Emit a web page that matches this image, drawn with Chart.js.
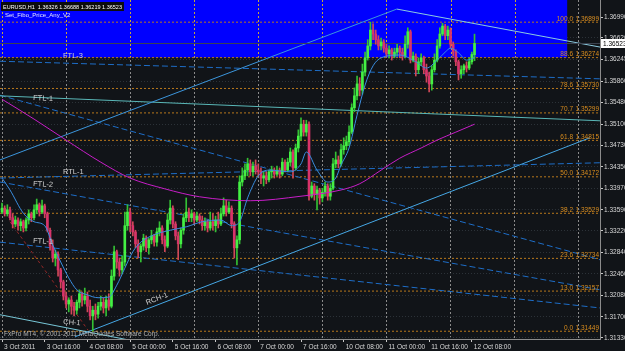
<!DOCTYPE html>
<html>
<head>
<meta charset="utf-8">
<script src="https://cdn.jsdelivr.net/npm/chart.js@4.4.1/dist/chart.umd.min.js"></script>
<style>
    html, body { margin: 0; padding: 0; background: #111418; }
    canvas { display: block; }
</style>
</head>
<body>
<canvas id="chart" width="625" height="351"></canvas>
<script>
// ======================================
// Data (EURUSD H1)
// ======================================

const opens = [
    1.3355,1.3362,1.3352,1.3359,1.3345,1.3334,1.3341,1.3331,1.3338,1.3327,
    1.3341,1.3352,1.3345,1.3359,1.3368,1.3355,1.3366,1.3352,1.3323,1.3295,
    1.3274,1.3281,1.3253,1.3232,1.3207,1.3193,1.3200,1.3189,1.3182,1.3196,
    1.3211,1.3200,1.3207,1.3189,1.3172,1.3182,1.3175,1.3189,1.3196,1.3186,
    1.3200,1.3189,1.3242,1.3285,1.3267,1.3253,1.3267,1.3331,1.3355,1.3331,
    1.3320,1.3299,1.3285,1.3295,1.3309,1.3292,1.3306,1.3313,1.3302,1.3320,
    1.3327,1.3306,1.3295,1.3341,1.3362,1.3334,1.3313,1.3299,1.3323,1.3345,
    1.3355,1.3345,1.3352,1.3341,1.3348,1.3341,1.3331,1.3338,1.3327,1.3338,
    1.3331,1.3341,1.3334,1.3352,1.3366,1.3355,1.3362,1.3334,1.3292,1.3306,
    1.3408,1.3419,1.3429,1.3440,1.3426,1.3436,1.3429,1.3426,1.3415,1.3419,
    1.3412,1.3426,1.3429,1.3422,1.3429,1.3422,1.3443,1.3429,1.3443,1.3461,
    1.3433,1.3468,1.3489,1.3510,1.3496,1.3510,1.3383,1.3401,1.3387,1.3394,
    1.3380,1.3390,1.3401,1.3383,1.3397,1.3440,1.3447,1.3440,1.3465,1.3472,
    1.3479,1.3496,1.3539,1.3560,1.3581,1.3570,1.3602,1.3627,1.3648,1.3676,
    1.3669,1.3659,1.3648,1.3655,1.3644,1.3634,1.3641,1.3630,1.3637,1.3644,
    1.3637,1.3630,1.3651,1.3673,1.3623,1.3630,1.3606,1.3620,1.3627,1.3606,
    1.3595,1.3581,1.3606,1.3623,1.3648,1.3669,1.3683,1.3666,1.3676,1.3651,
    1.3637,1.3620,1.3599,1.3606,1.3613,1.3609,1.3620,1.36326
];

const highs = [
    1.3371,1.3366,1.3368,1.3364,1.3352,1.3348,1.3345,1.3343,1.3341,1.3345,
    1.3359,1.3355,1.3368,1.3378,1.3371,1.3376,1.3369,1.3355,1.3327,1.3306,
    1.3288,1.3285,1.3256,1.3235,1.3214,1.3204,1.3207,1.3196,1.3200,1.3218,
    1.3214,1.3221,1.3214,1.3200,1.3189,1.3193,1.3196,1.3207,1.3204,1.3207,
    1.3211,1.3253,1.3295,1.3288,1.3274,1.3278,1.3355,1.3368,1.3362,1.3338,
    1.3323,1.3306,1.3299,1.3316,1.3313,1.3309,1.3323,1.3316,1.3327,1.3338,
    1.3331,1.3313,1.3352,1.3376,1.3366,1.3338,1.3320,1.3327,1.3352,1.3380,
    1.3362,1.3359,1.3355,1.3355,1.3352,1.3348,1.3345,1.3341,1.3355,1.3352,
    1.3348,1.3355,1.3362,1.3380,1.3376,1.3373,1.3366,1.3338,1.3313,1.3419,
    1.3433,1.3440,1.3450,1.3447,1.3443,1.3447,1.3440,1.3433,1.3426,1.3426,
    1.3429,1.3436,1.3433,1.3436,1.3433,1.3450,1.3447,1.3450,1.3468,1.3465,
    1.3475,1.3500,1.3521,1.3517,1.3517,1.3514,1.3408,1.3405,1.3401,1.3397,
    1.3397,1.3408,1.3405,1.3405,1.3450,1.3461,1.3454,1.3475,1.3486,1.3489,
    1.3507,1.3546,1.3574,1.3595,1.3592,1.3616,1.3637,1.3659,1.3690,1.3687,
    1.3676,1.3666,1.3662,1.3659,1.3651,1.3648,1.3644,1.3644,1.3651,1.3648,
    1.3644,1.3666,1.3680,1.3676,1.3637,1.3634,1.3627,1.3634,1.3630,1.3616,
    1.3602,1.3613,1.3634,1.3659,1.3680,1.3688,1.3686,1.3683,1.3680,1.3655,
    1.3641,1.3623,1.3613,1.3616,1.3620,1.3627,1.3637,1.36688
];

const lows = [
    1.3352,1.3348,1.3348,1.3341,1.3327,1.3329,1.3323,1.3322,1.3320,1.3322,
    1.3334,1.3338,1.3341,1.3352,1.3348,1.3352,1.3345,1.3320,1.3288,1.3267,
    1.3260,1.3242,1.3221,1.3200,1.3186,1.3179,1.3175,1.3172,1.3175,1.3186,
    1.3189,1.3193,1.3179,1.3165,1.3145,1.3165,1.3168,1.3182,1.3177,1.3172,
    1.3182,1.3186,1.3235,1.3256,1.3242,1.3246,1.3260,1.3323,1.3320,1.3313,
    1.3292,1.3274,1.3267,1.3288,1.3285,1.3281,1.3299,1.3295,1.3295,1.3313,
    1.3299,1.3285,1.3292,1.3334,1.3327,1.3306,1.3271,1.3292,1.3316,1.3338,
    1.3338,1.3338,1.3334,1.3338,1.3334,1.3323,1.3323,1.3320,1.3323,1.3323,
    1.3320,1.3327,1.3331,1.3348,1.3348,1.3352,1.3327,1.3274,1.3262,1.3299,
    1.3401,1.3412,1.3419,1.3419,1.3419,1.3422,1.3419,1.3405,1.3401,1.3405,
    1.3408,1.3415,1.3415,1.3419,1.3415,1.3419,1.3426,1.3426,1.3436,1.3415,
    1.3429,1.3461,1.3482,1.3489,1.3489,1.3376,1.3380,1.3376,1.3359,1.3369,
    1.3373,1.3383,1.3376,1.3376,1.3394,1.3433,1.3433,1.3436,1.3457,1.3465,
    1.3472,1.3493,1.3532,1.3553,1.3560,1.3563,1.3595,1.3623,1.3641,1.3659,
    1.3651,1.3641,1.3641,1.3637,1.3629,1.3627,1.3623,1.3627,1.3630,1.3627,
    1.3623,1.3627,1.3644,1.3618,1.3620,1.3595,1.3599,1.3613,1.3599,1.3584,
    1.3567,1.3570,1.3602,1.3620,1.3644,1.3666,1.3659,1.3659,1.3644,1.3630,
    1.3613,1.3588,1.3591,1.3599,1.3602,1.3606,1.3616,1.36219
];

const closes = [
    1.3362,1.3352,1.3359,1.3345,1.3334,1.3341,1.3331,1.3338,1.3327,1.3341,
    1.3352,1.3345,1.3359,1.3368,1.3355,1.3366,1.3352,1.3323,1.3295,1.3274,
    1.3281,1.3253,1.3232,1.3207,1.3193,1.3200,1.3189,1.3182,1.3196,1.3211,
    1.3200,1.3207,1.3189,1.3172,1.3182,1.3175,1.3189,1.3196,1.3186,1.3200,
    1.3189,1.3242,1.3285,1.3267,1.3253,1.3267,1.3331,1.3355,1.3331,1.3320,
    1.3299,1.3285,1.3295,1.3309,1.3292,1.3306,1.3313,1.3302,1.3320,1.3327,
    1.3306,1.3295,1.3341,1.3362,1.3334,1.3313,1.3299,1.3323,1.3345,1.3355,
    1.3345,1.3352,1.3341,1.3348,1.3341,1.3331,1.3338,1.3327,1.3338,1.3331,
    1.3341,1.3334,1.3352,1.3366,1.3355,1.3362,1.3334,1.3292,1.3306,1.3408,
    1.3419,1.3429,1.3440,1.3426,1.3436,1.3429,1.3426,1.3415,1.3419,1.3412,
    1.3426,1.3429,1.3422,1.3429,1.3422,1.3443,1.3429,1.3443,1.3461,1.3433,
    1.3468,1.3489,1.3510,1.3496,1.3510,1.3383,1.3401,1.3387,1.3394,1.3380,
    1.3390,1.3401,1.3383,1.3397,1.3440,1.3447,1.3440,1.3465,1.3472,1.3479,
    1.3496,1.3539,1.3560,1.3581,1.3570,1.3602,1.3627,1.3648,1.3676,1.3669,
    1.3659,1.3648,1.3655,1.3644,1.3634,1.3641,1.3630,1.3637,1.3644,1.3637,
    1.3630,1.3651,1.3673,1.3623,1.3630,1.3606,1.3620,1.3627,1.3606,1.3595,
    1.3581,1.3606,1.3623,1.3648,1.3669,1.3683,1.3666,1.3676,1.3651,1.3637,
    1.3620,1.3599,1.3606,1.3613,1.3609,1.3620,1.3633,1.36523
];

// moving averages, read at a few bars
const fastMaBars = [0,3,8,12,16,19,22,25,28,32,36,40,43,46,49,52,57,63,69,75,82,86,89,92,96,100,108,112,114,118,122,125,127,130,133,136,139,142,149,155,159,163,166,168,171,174,177];
const fastMaValues = [1.3415,1.3394,1.3353,1.3338,1.3331,1.3297,1.3267,1.3239,1.3218,1.3209,1.3204,1.3205,1.3226,1.3256,1.3285,1.3302,1.3315,1.3323,1.3329,1.3338,1.3341,1.3331,1.3338,1.3380,1.3419,1.3429,1.3426,1.3440,1.3461,1.3429,1.3408,1.3415,1.3438,1.3468,1.3526,1.3579,1.3613,1.3627,1.3632,1.3620,1.3609,1.3623,1.3637,1.3644,1.3636,1.3623,1.3627];

const slowMaBars = [0,12,24,37,48,61,74,93,112,127,134,142,149,157,163,170,177];
const slowMaValues = [1.3554,1.3519,1.3482,1.3443,1.3415,1.3396,1.3382,1.3375,1.3383,1.3394,1.3405,1.3429,1.3450,1.3468,1.3482,1.3496,1.3510];

// fibo levels
const fiboLabels = ["100.0", "88.6", "78.6", "70.7", "61.8", "50.0", "38.2", "23.6", "13.0", "0.0"];
const fiboValues = [1.36899, 1.36274, 1.35730, 1.35299, 1.34815, 1.34172, 1.33529, 1.32734, 1.32157, 1.31449];

// blue zone (top price, lower edge, last bar)
const zoneTop = 1.3745;
const zoneLow = 1.36274;
const zoneEnd = 211.8;

// trend lines, [bar, price] end points
const riseLine = [[-0.75, 1.3447], [147.9, 1.3713]];
const peakLine = [[147.9, 1.3713], [224, 1.3646]];
const rch1Line = [[27.3, 1.3135], [220.2, 1.3486]];
const lowLine = [[-0.75, 1.3174], [48, 1.3129]];
const ftl1Line = [[-0.75, 1.3560], [224, 1.3516]];
const ftl3Line = [[-0.75, 1.3621], [224, 1.3590]];
const dashALine = [[-0.75, 1.3561], [224, 1.3271]];
const rtl1Line = [[-0.75, 1.3415], [224, 1.3442]];
const ftl2Line = [[-0.75, 1.3408], [224, 1.3218]];
const dashCLine = [[-0.75, 1.3302], [224, 1.3186]];
const redLine = [[3, 1.3338], [32.2, 1.3147]];

// axes
const yTicks = [1.36990, 1.36620, 1.36245, 1.35860, 1.35480, 1.35100, 1.34730, 1.34350, 1.33970, 1.33590, 1.33220, 1.32840, 1.32460, 1.32080, 1.31700, 1.31330];
const timeLabels = ["3 Oct 2011", "3 Oct 16:00", "4 Oct 08:00", "5 Oct 00:00", "5 Oct 16:00", "6 Oct 08:00", "7 Oct 00:00", "7 Oct 16:00", "10 Oct 08:00", "11 Oct 00:00", "11 Oct 16:00", "12 Oct 08:00"];

const header = "EURUSD,H1  1.36326 1.36688 1.36219 1.36523";
const indicatorName = "Set_Fibo_Price_Any_V2";
const copyright = "FxPro MT4, \u00A9 2001-2011 MetaQuotes Software Corp.";

const lineLabels = [
    ["FTL-3", 63, 58, 0],
    ["FTL-1", 33, 100, 0.05],
    ["RTL-1", 63, 174, 0],
    ["FTL-2", 33, 186, 0.05],
    ["FTL-1", 33, 243, 0.05],
    ["RCH-1", 147, 305, -0.37],
    ["CH-1", 63, 324, 0.08]
];

// ======================================
// Datasets
// ======================================

const FONT = '"Liberation Sans", Arial, sans-serif';
Chart.defaults.font.family = FONT;

const bars = closes.map((c, i) => i);
const isUp = i => closes[i] >= opens[i];

function candleSet(up, body) {
    return {
        type: "bar",
        data: bars.filter(i => isUp(i) === up).map(i => ({
            x: i,
            y: body ? [opens[i], closes[i]] : [lows[i], highs[i]]
        })),
        backgroundColor: body
            ? (up ? "#44f044" : "#d8336a")
            : (up ? "#34c034" : "#d04858"),
        barThickness: body ? 2 : 1,
        minBarLength: 1,
        grouped: false,
        borderWidth: 0,
        order: body ? 20 : 30
    };
}

function lineSet(points, color, dash, order) {
    return {
        type: "line",
        data: points.map(p => ({ x: p[0], y: p[1] })),
        borderColor: color,
        borderWidth: 1,
        borderDash: dash || [],
        pointRadius: 0,
        fill: false,
        order: order || 60
    };
}

function maSet(xs, ys, color) {
    const set = lineSet(xs.map((b, i) => [b, ys[i]]), color, [], 10);
    set.cubicInterpolationMode = "monotone";
    return set;
}

const DASH_BLUE = "#1e6ec8";
const lastClose = closes[closes.length - 1];

const datasets = [
    {
        type: "line",
        data: [{ x: -0.75, y: zoneTop }, { x: zoneEnd, y: zoneTop }],
        fill: { value: zoneLow },
        backgroundColor: "#0000ff",
        borderWidth: 0,
        pointRadius: 0,
        order: 100
    },
    ...fiboValues.map(v => lineSet([[-0.75, v], [224, v]], "#b8781c", [2, 2], 90)),
    lineSet(riseLine, "#3c96dc"),
    lineSet(peakLine, "#8ccbe0"),
    lineSet(rch1Line, "#46a8e6"),
    lineSet(lowLine, "#78c8d8"),
    lineSet(ftl1Line, "#5ab8b8"),
    lineSet(ftl3Line, DASH_BLUE, [6, 3]),
    lineSet(dashALine, DASH_BLUE, [6, 3]),
    lineSet(rtl1Line, DASH_BLUE, [6, 3]),
    lineSet(ftl2Line, DASH_BLUE, [6, 3]),
    lineSet(dashCLine, DASH_BLUE, [6, 3]),
    lineSet(redLine, "#962828", [3, 3]),
    lineSet([[-0.75, lastClose], [224, lastClose]], "#3c4450", [], 55),
    candleSet(true, false),
    candleSet(false, false),
    candleSet(true, true),
    candleSet(false, true),
    maSet(fastMaBars, fastMaValues, "#3a8ee0"),
    maSet(slowMaBars, slowMaValues, "#c81ec8")
];

// ======================================
// Overlay: grid over the zone, texts
// ======================================

const overlay = {
    id: "overlay",

    afterDatasetDraw(chart, args) {
        if (args.index !== 0) return;
        const { ctx, chartArea: a, scales: { x, y } } = chart;
        const bottom = y.getPixelForValue(zoneLow);
        ctx.save();
        ctx.strokeStyle = "#c8a838";
        ctx.lineWidth = 1;
        ctx.setLineDash([2, 2]);
        for (let v = 0; v <= zoneEnd; v += 24) {
            const px = Math.round(x.getPixelForValue(v)) + 0.5;
            ctx.beginPath();
            ctx.moveTo(px, a.top);
            ctx.lineTo(px, bottom);
            ctx.stroke();
        }
        ctx.restore();
    },

    afterDraw(chart) {
        const { ctx, chartArea: a, scales: { y } } = chart;
        ctx.save();

        // fibo texts
        ctx.font = "6.5px " + FONT;
        ctx.textAlign = "right";
        ctx.fillStyle = "#d88c1e";
        fiboValues.forEach((v, i) => {
            const py = y.getPixelForValue(v) - 1.5;
            ctx.fillText(v.toFixed(5), a.right - 1, py);
            ctx.fillText(fiboLabels[i], a.right - 27, py);
        });

        // header
        ctx.textAlign = "left";
        ctx.font = "5.5px " + FONT;
        const hw = ctx.measureText(header).width;
        ctx.fillStyle = "#0c0c0c";
        ctx.fillRect(1, 2, hw + 4, 9);
        ctx.fillStyle = "#ffffff";
        ctx.fillText(header, 3, 9);
        ctx.font = "6px " + FONT;
        ctx.fillStyle = "#e6e6ff";
        ctx.fillText(indicatorName, 5, 17);
        ctx.font = "6.5px " + FONT;
        ctx.fillStyle = "#b4b4b4";
        ctx.fillText(copyright, 4, 336);

        // trend line names
        ctx.font = "7.5px " + FONT;
        ctx.fillStyle = "#cfcfcf";
        lineLabels.forEach(([t, lx, ly, rot]) => {
            ctx.save();
            ctx.translate(lx, ly);
            ctx.rotate(rot);
            ctx.fillText(t, 0, 0);
            ctx.restore();
        });

        // current price box
        const py = y.getPixelForValue(lastClose);
        ctx.fillStyle = "#ffffff";
        ctx.fillRect(a.right + 1, Math.round(py) - 4, 26, 9);
        ctx.fillStyle = "#000000";
        ctx.font = "6.5px " + FONT;
        ctx.textBaseline = "middle";
        ctx.fillText(lastClose.toFixed(5), a.right + 3, py + 0.5);

        ctx.restore();
    }
};

// ======================================
// Chart
// ======================================

new Chart(document.getElementById("chart"), {

    type: "bar",

    data: { datasets },

    options: {

        responsive: false,
        animation: false,
        events: [],

        layout: { padding: 0, autoPadding: false },

        plugins: {
            legend: { display: false },
            tooltip: { enabled: false }
        },

        scales: {

            x: {
                type: "linear",
                min: -0.75,
                max: 224,
                offset: false,
                grid: {
                    offset: false,
                    color: c => (c.tick && c.tick.value % 24 === 0) ? "#8a8a8a" : "rgba(0,0,0,0)",
                    tickColor: c => (c.tick && c.tick.value % 16 === 0 && timeLabels[c.tick.value / 16]) ? "#c8c8c8" : "rgba(0,0,0,0)",
                    tickLength: 3
                },
                border: { color: "#8c8c8c", dash: [2, 2] },
                ticks: {
                    autoSkip: false,
                    maxRotation: 0,
                    align: "start",
                    labelOffset: 2,
                    padding: 1,
                    color: "#d8d8d8",
                    font: { size: 6.5 },
                    callback: v => (v % 16 === 0 && timeLabels[v / 16]) || ""
                },
                afterBuildTicks: s => {
                    const t = [];
                    for (let v = 0; v <= 224; v += 8) t.push({ value: v });
                    s.ticks = t;
                },
                afterFit: s => {
                    s.height = 12;
                    s.paddingLeft = 0;
                    s.paddingRight = 0;
                }
            },

            y: {
                position: "right",
                min: 1.31312,
                max: 1.37290,
                beginAtZero: false,
                grid: { color: "#2c3238", tickColor: "#c8c8c8", tickLength: 3 },
                border: { color: "#8c8c8c", dash: [1, 2] },
                ticks: {
                    autoSkip: false,
                    padding: 1,
                    color: "#d8d8d8",
                    font: { size: 6.5 },
                    callback: v => Number(v).toFixed(5)
                },
                afterBuildTicks: s => {
                    s.ticks = yTicks.map(v => ({ value: v }));
                },
                afterFit: s => {
                    s.width = 25;
                    s.paddingTop = 0;
                    s.paddingBottom = 0;
                }
            }
        }
    },

    plugins: [overlay]

});
</script>
</body>
</html>
